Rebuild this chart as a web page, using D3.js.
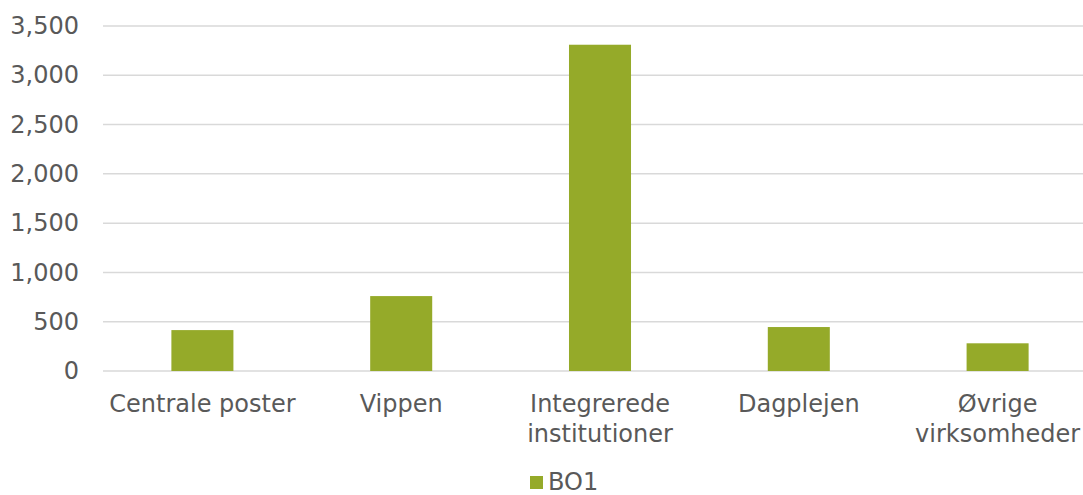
<!DOCTYPE html>
<meta charset="utf-8">
<style>
  body { margin: 0; background: #fff; }
  text { font-family: "DejaVu Sans", Verdana, sans-serif; fill: #595959; }
  .grid line { stroke: #d9d9d9; stroke-width: 1.5; }
  .bar { fill: #95aa29; }
</style>
<svg width="1083" height="495"></svg>
<script src="https://d3js.org/d3.v7.min.js"></script>
<script>

var categories = [["Centrale poster"], ["Vippen"], ["Integrerede", "institutioner"], ["Dagplejen"], ["Øvrige", "virksomheder"]];
var values = [415, 760, 3310, 446, 281];
var yTicks = [0, 500, 1000, 1500, 2000, 2500, 3000, 3500];
var seriesName = "BO1";

var svg = d3.select("svg"),
    margin = {top: 26, right: -14, bottom: 124, left: 103},
    width = +svg.attr("width") - margin.left - margin.right,
    height = +svg.attr("height") - margin.top - margin.bottom,
    g = svg.append("g").attr("transform", "translate(" + margin.left + "," + margin.top + ")");

var keys = categories.map(function(c) { return c.join(" "); });

var x = d3.scaleBand()
    .domain(keys)
    .range([0, width])
    .paddingInner(0.688)
    .paddingOuter(0.344);

var y = d3.scaleLinear()
    .domain([0, 3500])
    .range([height, 0]);

// gridlines
g.append("g")
    .attr("class", "grid")
  .selectAll("line")
  .data(yTicks)
  .enter().append("line")
    .attr("x1", 0)
    .attr("x2", width)
    .attr("y1", function(d) { return y(d); })
    .attr("y2", function(d) { return y(d); });

// y axis labels
var yAxis = g.append("g")
    .call(d3.axisLeft(y).tickValues(yTicks).tickSize(0).tickPadding(24).tickFormat(d3.format(",")));
yAxis.select(".domain").remove();
yAxis.selectAll("text")
    .attr("fill", "#595959")
    .style("font-size", "24px")
    .style("font-family", "'DejaVu Sans', Verdana, sans-serif");

// bars
g.selectAll(".bar")
  .data(values)
  .enter().append("rect")
    .attr("class", "bar")
    .attr("x", function(d, i) { return x(keys[i]); })
    .attr("width", x.bandwidth())
    .attr("y", function(d) { return y(d); })
    .attr("height", function(d) { return height - y(d); });

// x axis labels (wrapped)
var xAxis = g.append("g")
    .attr("transform", "translate(0," + height + ")")
    .call(d3.axisBottom(x).tickSize(0).tickPadding(0));
xAxis.select(".domain").remove();
xAxis.selectAll(".tick text").remove();
xAxis.selectAll(".tick").each(function(d, i) {
  var t = d3.select(this).append("text")
      .attr("text-anchor", "middle")
      .attr("fill", "#595959")
      .style("font-size", "24px")
      .style("font-family", "'DejaVu Sans', Verdana, sans-serif");
  categories[i].forEach(function(line, j) {
    t.append("tspan")
        .attr("x", 0)
        .attr("y", 41 + j * 30)
        .text(line);
  });
});

// legend
var legend = svg.append("g").attr("transform", "translate(530,476)");
legend.append("rect")
    .attr("class", "bar")
    .attr("width", 13)
    .attr("height", 13);
legend.append("text")
    .attr("x", 18)
    .attr("y", 14)
    .style("font-size", "24px")
    .text(seriesName);

</script>
